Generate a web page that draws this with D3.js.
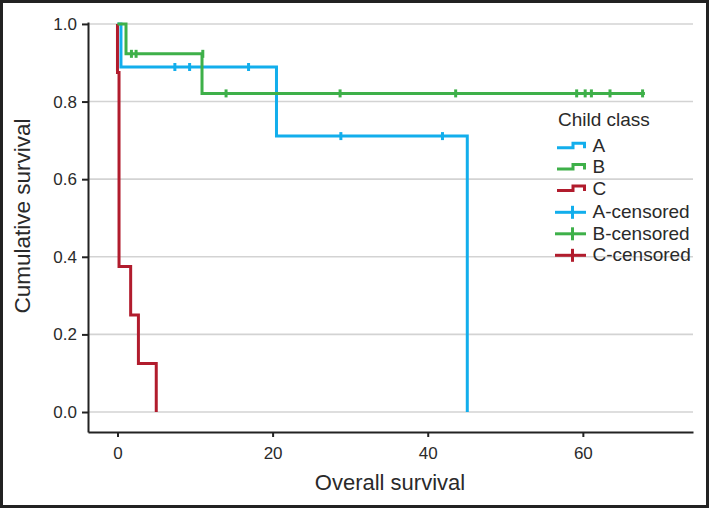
<!DOCTYPE html>
<html>
<head>
<meta charset="utf-8">
<script src="https://cdn.jsdelivr.net/npm/d3@7"></script>
<style>
  html, body { margin: 0; padding: 0; background: #fff; }
  svg { display: block; font-family: "Liberation Sans", Arial, Helvetica, sans-serif; }
</style>
</head>
<body>
<div id="chart"></div>
<script>
// Kaplan-Meier curves
var groups = ["A", "B", "C"];
var colors = ["#12aeec", "#3eb049", "#b11c2d"];

// step curves: event times and survival after each step
var timesA = [0, 0.45, 20.5, 45.1];
var survA = [1.0, 0.889, 0.711, 0.0];
var timesB = [0, 1.1, 10.9, 68];
var survB = [1.0, 0.923, 0.821, 0.821];
var timesC = [0, 0.0, 0.2, 1.7, 2.7, 5.0];
var survC = [1.0, 0.875, 0.375, 0.25, 0.125, 0.0];

// censored observations
var censA = [7.4, 9.3, 16.9, 28.8, 41.9];
var censAsurv = [0.889, 0.889, 0.889, 0.711, 0.711];
var censB = [1.8, 2.4, 11.0, 14.0, 28.7, 43.6, 59.2, 60.3, 61.1, 63.5, 67.7];
var censBsurv = [0.923, 0.923, 0.923, 0.821, 0.821, 0.821, 0.821, 0.821, 0.821, 0.821, 0.821];

var xTicks = [0, 20, 40, 60];
var yTicks = [0, 0.2, 0.4, 0.6, 0.8, 1.0];
var legendLabels = ["A", "B", "C", "A-censored", "B-censored", "C-censored"];

var W = 709, H = 508;
var svg = d3.select("#chart").append("svg")
  .attr("width", W).attr("height", H);

var x = d3.scaleLinear().domain([-3.8, 74.2]).range([88, 693]);
var y = d3.scaleLinear().domain([-0.0515, 1.005]).range([432, 22]);

// outer frame
svg.append("rect").attr("x", 1.5).attr("y", 1.5).attr("width", W - 3).attr("height", H - 3)
  .attr("fill", "none").attr("stroke", "#222").attr("stroke-width", 3);

// gridlines
svg.append("g").selectAll("line").data(yTicks).enter().append("line")
  .attr("x1", 88).attr("x2", 693)
  .attr("y1", function(d) { return y(d); }).attr("y2", function(d) { return y(d); })
  .attr("stroke", "#d3d3d3").attr("stroke-width", 1.6);

// axes
var yAxis = svg.append("g").attr("transform", "translate(88,0)")
  .call(d3.axisLeft(y).tickValues(yTicks).tickFormat(d3.format(".1f"))
    .tickSizeInner(6).tickSizeOuter(0).tickPadding(5));
var xAxis = svg.append("g").attr("transform", "translate(0,432)")
  .call(d3.axisBottom(x).tickValues(xTicks).tickSizeInner(5).tickSizeOuter(0).tickPadding(10));
[xAxis, yAxis].forEach(function(a) {
  a.select(".domain").attr("stroke", "#222").attr("stroke-width", 2);
  a.selectAll(".tick line").attr("stroke", "#222").attr("stroke-width", 2);
  a.selectAll("text").attr("fill", "#2a2a2a").style("font-size", "17px")
    .style("font-family", "'Liberation Sans', Arial, sans-serif");
});

// axis titles
svg.append("text").attr("x", 390).attr("y", 490).attr("text-anchor", "middle")
  .style("font-size", "22px").attr("fill", "#2a2a2a").text("Overall survival");
svg.append("text").attr("transform", "translate(30,216) rotate(-90)").attr("text-anchor", "middle")
  .style("font-size", "22.5px").attr("fill", "#2a2a2a").text("Cumulative survival");

// curves
var stepLine = d3.line()
  .x(function(d) { return x(d[0]); })
  .y(function(d) { return y(d[1]); })
  .curve(d3.curveStepAfter);

var curves = [
  { t: timesA, s: survA, c: colors[0] },
  { t: timesC, s: survC, c: colors[2] },
  { t: timesB, s: survB, c: colors[1] }
];
curves.forEach(function(cv) {
  var pts = cv.t.map(function(t, i) { return [t, cv.s[i]]; });
  svg.append("path").datum(pts)
    .attr("d", stepLine)
    .attr("fill", "none").attr("stroke", cv.c).attr("stroke-width", 3);
});

// censor marks
function censorMarks(times, surv, col) {
  svg.append("g").selectAll("line").data(times).enter().append("line")
    .attr("x1", function(d) { return x(d); }).attr("x2", function(d) { return x(d); })
    .attr("y1", function(d, i) { return y(surv[i]) - 4; })
    .attr("y2", function(d, i) { return y(surv[i]) + 4; })
    .attr("stroke", col).attr("stroke-width", 3);
}
censorMarks(censA, censAsurv, colors[0]);
censorMarks(censB, censBsurv, colors[1]);

// legend
var leg = svg.append("g");
leg.append("text").attr("x", 558).attr("y", 126).style("font-size", "19px")
  .attr("fill", "#2a2a2a").text("Child class");
var rowY = [151.7, 173, 194.5, 218.3, 239.8, 261.3];
legendLabels.forEach(function(lab, i) {
  var by = rowY[i];
  var col = colors[i % 3];
  if (i < 3) {
    leg.append("path")
      .attr("d", "M557," + (by - 4) + "H573V" + (by - 8.4) + "H584.5V" + (by - 3.5))
      .attr("fill", "none").attr("stroke", col).attr("stroke-width", 3);
  } else {
    leg.append("line").attr("x1", 555).attr("x2", 586).attr("y1", by - 6).attr("y2", by - 6)
      .attr("stroke", col).attr("stroke-width", 3);
    leg.append("line").attr("x1", 572.5).attr("x2", 572.5).attr("y1", by - 12.5).attr("y2", by + 0.5)
      .attr("stroke", col).attr("stroke-width", 3);
  }
  leg.append("text").attr("x", 592.5).attr("y", by).style("font-size", "19px")
    .attr("fill", "#2a2a2a").text(lab);
});
</script>
</body>
</html>
